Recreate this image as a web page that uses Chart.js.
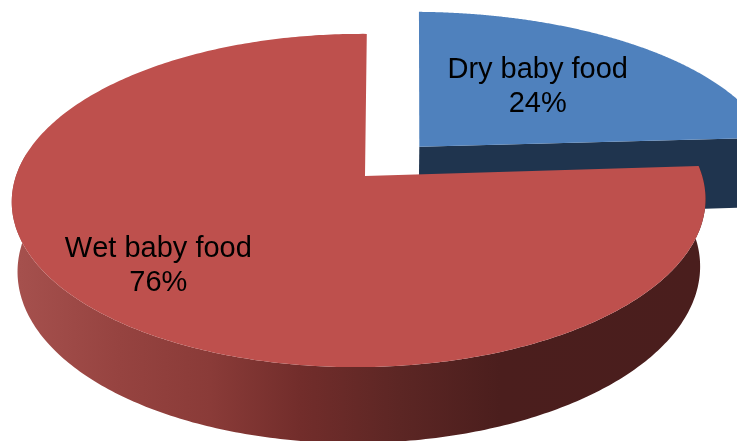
<!DOCTYPE html>
<html>
<head>
<meta charset="utf-8">
<style>html,body{margin:0;padding:0;background:#fff}canvas{display:block}</style>
<script src="https://cdn.jsdelivr.net/npm/chart.js@4/dist/chart.umd.min.js"></script>
</head>
<body>
<canvas id="c" width="737" height="441"></canvas>
<script>
const categories = ['Dry baby food', 'Wet baby food'];
const shares = [24, 76];
const labelU = [0.381, -0.55];
const labelV = [-0.426, 0.495];

const topColors = ['#4F81BD', '#BE504D'];
const redWall = [[20,'#A5504D'],[120,'#964340'],[210,'#8A3B38'],[300,'#722D2B'],[400,'#5C2624'],[500,'#4B1E1D'],[700,'#4A1E1D']];
const blueWall = '#1F344E';
const sliceShear = [0.022, 0.006];
const sliceStretch = [1.08, 1];
const wallDepth = [1.07, 1];
const offsetTurn = [-0.045, 0];

// perspective view of the tilted pie
const view = {cx:365, cy:176, rx:343, ry:163, k:0.147, l:0.0173, depth:69, m:0.016};
function project(u, v, z, shear) {
  const w = 1 - view.k * v + view.l * u + view.m * z;
  return {
    x: view.cx + view.rx * (u - shear * v) / w,
    y: view.cy + (view.ry * v + view.depth * z) / w
  };
}
function rimPoints(a0, a1, ou, ov, z, i, frontOnly) {
  const pts = [], n = 360;
  for (let t = 0; t <= n; t++) {
    const a = a0 + (a1 - a0) * t / n;
    if (frontOnly && Math.sin(a) < -0.15) continue;
    pts.push(project(ou + sliceStretch[i] * Math.cos(a), ov + Math.sin(a), z, sliceShear[i]));
  }
  return pts;
}
function tracePts(ctx, pts) {
  pts.forEach((p, i) => i ? ctx.lineTo(p.x, p.y) : ctx.moveTo(p.x, p.y));
}
function sliceApex(arc, i) {
  const off = arc.options.offset / arc.outerRadius;
  const mid = (arc.startAngle + arc.endAngle) / 2 + offsetTurn[i];
  return {u: off * Math.cos(mid), v: off * Math.sin(mid)};
}

const pie3d = {
  id: 'pie3d',
  beforeDatasetDraw(chart, args) {
    const ctx = chart.ctx;
    const arcs = chart.getDatasetMeta(args.index).data;
    arcs.forEach((arc, i) => {
      const o = sliceApex(arc, i), s = sliceShear[i], z = wallDepth[i];
      const topRim = rimPoints(arc.startAngle, arc.endAngle, o.u, o.v, 0, i, false);
      const wallTop = rimPoints(arc.startAngle, arc.endAngle, o.u, o.v, 0, i, true);
      const wallBot = rimPoints(arc.startAngle, arc.endAngle, o.u, o.v, z, i, true);
      let fill;
      if (i === 1) {
        fill = ctx.createLinearGradient(0, 0, 737, 0);
        redWall.forEach(st => fill.addColorStop(st[0] / 737, st[1]));
      } else {
        fill = blueWall;
      }
      ctx.fillStyle = fill;
      // outer wall, front part only
      ctx.beginPath();
      tracePts(ctx, wallTop.concat(wallBot.slice().reverse()));
      ctx.closePath();
      ctx.fill();
      const a0 = project(o.u, o.v, 0, s), b0 = project(o.u, o.v, z, s);
      // radial wall at the slice's closing edge, when it faces the viewer
      if (Math.cos(arc.endAngle) > 1e-6) {
        ctx.beginPath();
        tracePts(ctx, [a0, wallTop[wallTop.length - 1], wallBot[wallBot.length - 1], b0]);
        ctx.closePath();
        ctx.fill();
      }
      // top face
      ctx.fillStyle = topColors[i];
      ctx.beginPath();
      tracePts(ctx, [a0].concat(topRim));
      ctx.closePath();
      ctx.fill();
    });
    // labels
    ctx.fillStyle = '#000';
    ctx.font = '29px "Liberation Sans", Arial, sans-serif';
    ctx.fontKerning = 'none';
    ctx.textAlign = 'center';
    ctx.textBaseline = 'alphabetic';
    arcs.forEach((arc, i) => {
      const o = sliceApex(arc, i);
      const p = project(o.u + labelU[i], o.v + labelV[i], 0, sliceShear[i]);
      ctx.fillText(categories[i], p.x, p.y - 7);
      ctx.fillText(shares[i] + '%', p.x, p.y + 27);
    });
    return false;
  }
};

new Chart(document.getElementById('c'), {
  type: 'pie',
  data: {
    labels: categories,
    datasets: [{
      data: shares,
      backgroundColor: topColors,
      borderWidth: 0,
      offset: [48, 0],
      hoverOffset: 0
    }]
  },
  options: {
    responsive: false,
    animation: false,
    events: [],
    layout: {padding: 0},
    plugins: {legend: {display: false}, tooltip: {enabled: false}, title: {display: false}}
  },
  plugins: [pie3d]
});
</script>
</body>
</html>
